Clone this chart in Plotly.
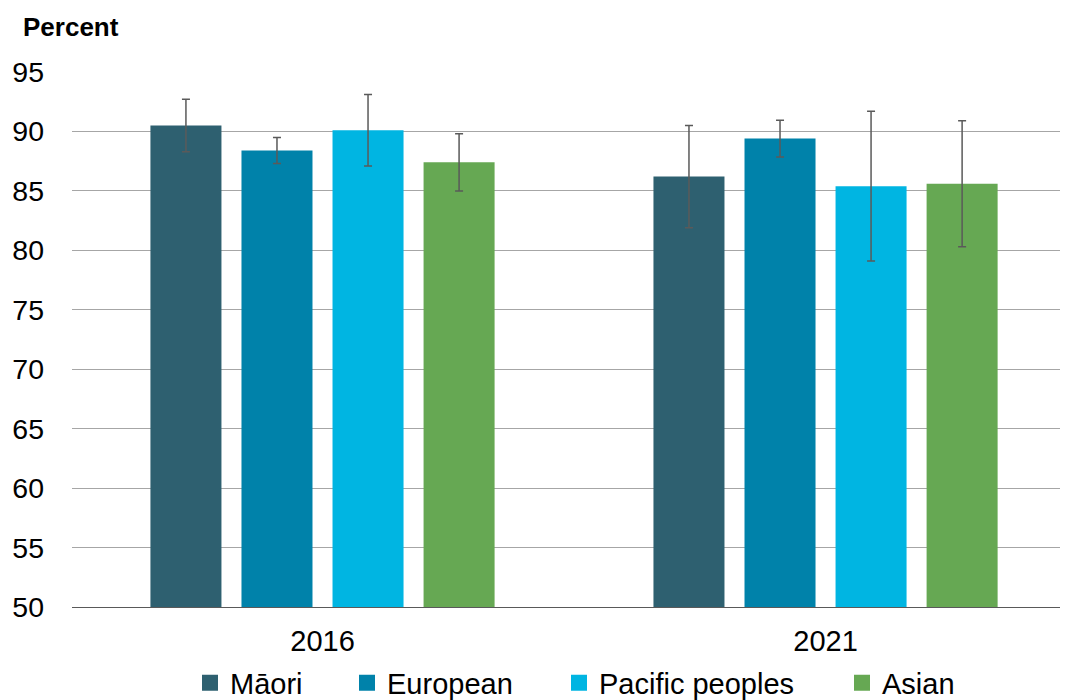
import plotly.graph_objects as go

years = ["2016", "2021"]
groups = ["Māori", "European", "Pacific peoples", "Asian"]
colors = ["#2E6070", "#0082AA", "#00B5E2", "#66A853"]
values = {
    "Māori": [90.5, 86.2],
    "European": [88.4, 89.4],
    "Pacific peoples": [90.1, 85.4],
    "Asian": [87.4, 85.6],
}
errors = {
    "Māori": [2.2, 4.3],
    "European": [1.1, 1.55],
    "Pacific peoples": [3.0, 6.3],
    "Asian": [2.4, 5.3],
}
y_ticks = [50, 55, 60, 65, 70, 75, 80, 85, 90, 95]

W, H = 1060, 692
legend_text_x = [224, 381, 593, 876]  # px where legend text starts

fig = go.Figure()
legend_names = ["legend", "legend2", "legend3", "legend4"]
for i, (g, c) in enumerate(zip(groups, colors)):
    fig.add_trace(go.Bar(
        x=[0, 1], y=values[g], name=g, showlegend=False,
        marker=dict(color=c, line=dict(width=0)),
        error_y=dict(type="data", array=errors[g], visible=True,
                     color="#5A5A5A", thickness=1.5, width=4),
    ))
    fig.add_trace(go.Scatter(
        x=[None], y=[None], name=g, mode="markers", showlegend=True,
        legend=legend_names[i],
        marker=dict(symbol="square", size=19, color=c),
    ))

layout_legends = {}
for i, ln in enumerate(legend_names):
    layout_legends[ln] = dict(
        orientation="h", xref="container", yref="container",
        x=(legend_text_x[i] - 42) / W, xanchor="left",
        y=1 - 675 / H, yanchor="middle",
        font=dict(size=29, color="#000000"), bgcolor="rgba(0,0,0,0)",
        itemsizing="trace",
    )

fig.update_layout(
    width=W, height=H,
    margin=dict(l=64, r=0, t=64, b=93, autoexpand=False),
    plot_bgcolor="white", paper_bgcolor="white",
    barmode="group", bargap=0.276, bargroupgap=0.22,
    font=dict(family="Liberation Sans, Arial, sans-serif", size=28, color="#000000"),
    showlegend=True,
    xaxis=dict(
        tickmode="array", tickvals=[0, 1], ticktext=years,
        range=[-0.498, 1.482], showgrid=False, zeroline=False,
        showline=True, linecolor="#595959", linewidth=1,
        ticks="", tickfont=dict(size=29), ticklabelstandoff=8,
    ),
    yaxis=dict(
        range=[50, 95], tickvals=y_ticks, showgrid=True,
        gridcolor="#A6A6A6", gridwidth=1, zeroline=False,
        showline=False, ticks="", tickfont=dict(size=28.5),
        ticklabelstandoff=27,
    ),
    annotations=[dict(
        text="<b>Percent</b>", xref="paper", yref="paper",
        x=(12.7 - 64) / 996, y=(599 - 19.5) / 535,
        xanchor="left", yanchor="middle",
        showarrow=False, font=dict(size=26),
    )],
    **layout_legends,
)
fig.write_html("out.html")
